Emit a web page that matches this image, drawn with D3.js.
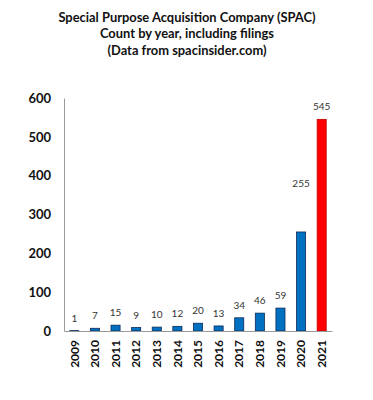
<!DOCTYPE html>
<html>
<head>
<meta charset="utf-8">
<script src="https://cdn.jsdelivr.net/npm/d3@7"></script>
<style>
  body { margin: 0; background: #fff; }
  text { font-family: Lato, "Open Sans", sans-serif; }
</style>
</head>
<body>
<div id="chart"></div>
<script>
const years = ['2009', '2010', '2011', '2012', '2013', '2014', '2015', '2016', '2017', '2018', '2019', '2020', '2021'];
const counts = [1, 7, 15, 9, 10, 12, 20, 13, 34, 46, 59, 255, 545];
const yTicks = [0, 100, 200, 300, 400, 500, 600];
const titleLines = [
    'Special Purpose Acquisition Company (SPAC)',
    'Count by year, including filings',
    '(Data from spacinsider.com)'
];

const W = 373, H = 400;
const margin = { top: 98, right: 41, bottom: 69, left: 64 };
const width = W - margin.left - margin.right;
const height = H - margin.top - margin.bottom;

const svg = d3.select('#chart')
    .append('svg')
    .attr('width', W)
    .attr('height', H);

// title
svg.append('text')
    .attr('x', 187)
    .attr('y', 22)
    .attr('text-anchor', 'middle')
    .style('font-size', '12.9px')
    .style('font-weight', 'bold')
    .style('fill', '#111')
    .selectAll('tspan')
    .data(titleLines)
    .enter()
    .append('tspan')
    .attr('x', 187)
    .attr('dy', (d, i) => i === 0 ? 0 : 16.3)
    .text(d => d);

const g = svg.append('g')
    .attr('transform', `translate(${margin.left},${margin.top})`);

const x = d3.scaleBand()
    .domain(years)
    .range([0, width])
    .paddingInner(0.56)
    .paddingOuter(0.28);

const y = d3.scaleLinear()
    .domain([0, 600])
    .range([height, 0]);

// y axis
const yAxis = g.append('g')
    .call(d3.axisLeft(y).tickValues(yTicks).tickSize(0).tickPadding(13));
yAxis.select('.domain').attr('stroke', '#999');
yAxis.selectAll('text')
    .style('font-size', '13px')
    .style('font-weight', 'bold')
    .style('fill', '#111');

// bars
g.selectAll('.bar')
    .data(years)
    .enter()
    .append('rect')
    .attr('class', 'bar')
    .attr('x', d => x(d))
    .attr('y', (d, i) => y(counts[i]))
    .attr('width', x.bandwidth())
    .attr('height', (d, i) => height - y(counts[i]))
    .attr('fill', d => d === '2021' ? '#ff0000' : '#0070c0')
    .attr('stroke', d => d === '2021' ? '#c00000' : '#0b2a5a')
    .attr('stroke-width', 0.8);

// x axis
const xAxis = g.append('g')
    .attr('transform', `translate(0,${height})`)
    .call(d3.axisBottom(x).tickSize(0).tickPadding(9));
xAxis.select('.domain').attr('stroke', '#999');
xAxis.selectAll('text')
    .attr('transform', 'rotate(-90)')
    .attr('text-anchor', 'end')
    .attr('dy', '0.35em')
    .attr('x', -9)
    .attr('y', 0)
    .style('font-size', '12px')
    .style('font-weight', 'bold')
    .style('fill', '#111');

// value labels (the 2020 label sits higher in the original)
g.selectAll('.val')
    .data(years)
    .enter()
    .append('text')
    .attr('class', 'val')
    .attr('x', d => x(d) + x.bandwidth() / 2)
    .attr('y', (d, i) => y(counts[i]) - (d === '2020' ? 45 : 9))
    .attr('text-anchor', 'middle')
    .style('font-size', '10px')
    .style('fill', '#333')
    .text((d, i) => counts[i]);
</script>
</body>
</html>
